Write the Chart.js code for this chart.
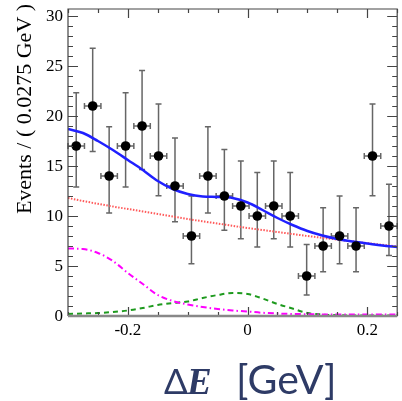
<!DOCTYPE html>
<html>
<head>
<meta charset="utf-8">
<script src="https://cdn.jsdelivr.net/npm/chart.js@4.4.1/dist/chart.umd.min.js"></script>
<style>
  html, body { margin: 0; padding: 0; background: #fff; }
  #wrap { width: 402px; height: 401px; position: relative; }
</style>
</head>
<body>
<div id="wrap"><canvas id="fitChart" width="402" height="401"></canvas></div>
<script>
// data: 20 bins of 0.0275 GeV between -0.3 and 0.25
const binWidth = 0.0275;
const binCenters = [-0.28625, -0.25875, -0.23125, -0.20375, -0.17625, -0.14875, -0.12125, -0.09375, -0.06625, -0.03875,
                    -0.01125, 0.01625, 0.04375, 0.07125, 0.09875, 0.12625, 0.15375, 0.18125, 0.20875, 0.23625];
const events = [17, 21, 14, 17, 19, 16, 13, 8, 14, 12, 11, 10, 11, 10, 4, 7, 8, 7, 16, 9];
const errMinus = [4.10, 4.56, 3.71, 4.10, 4.34, 3.97, 3.57, 2.77, 3.71, 3.42, 3.27, 3.11, 3.27, 3.11, 1.91, 2.58, 2.77, 2.58, 3.97, 2.94];
const errPlus = [5.32, 5.78, 4.93, 5.32, 5.56, 5.19, 4.79, 4.01, 4.93, 4.65, 4.50, 4.35, 4.50, 4.35, 3.16, 3.83, 4.01, 3.83, 5.19, 4.18];

// fit curves sampled every 0.025
const curveX = [-0.3, -0.275, -0.25, -0.225, -0.2, -0.175, -0.15, -0.125, -0.1, -0.075, -0.05, -0.025,
                0, 0.025, 0.05, 0.075, 0.1, 0.125, 0.15, 0.175, 0.2, 0.225, 0.25];
const totalFit = [18.7, 18.3, 17.5, 16.6, 15.6, 14.6, 13.5, 12.7, 12.2, 11.95, 11.9, 11.8,
                  11.35, 10.6, 9.8, 9.1, 8.5, 8.05, 7.7, 7.45, 7.25, 7.05, 6.9];
const bkgFit = [11.8, 11.5, 11.22, 10.95, 10.7, 10.45, 10.2, 9.95, 9.7, 9.47, 9.25, 9.02,
                8.8, 8.6, 8.4, 8.2, 8.0, 7.82, 7.64, 7.46, 7.29, 7.12, 6.95];
const peakingFit = [6.75, 6.7, 6.3, 5.5, 4.3, 3.2, 2.1, 1.5, 1.15, 0.9, 0.7, 0.55,
                    0.45, 0.32, 0.25, 0.2, 0.18, 0.15, 0.15, 0.15, 0.15, 0.15, 0.15];
const signalFit = [0.2, 0.25, 0.3, 0.4, 0.55, 0.8, 1.1, 1.3, 1.45, 1.8, 2.1, 2.3,
                   2.2, 1.75, 1.2, 0.75, 0.3, 0.15, 0.08, 0.05, 0.05, 0.05, 0.05];

const xTickValues = [-0.2, 0, 0.2];
const xTickLabels = ['-0.2', '0', '0.2'];
const yTickValues = [0, 5, 10, 15, 20, 25, 30];

const serif = '"Liberation Serif", "Times New Roman", serif';
const pts = arr => curveX.map((x, i) => ({ x: x, y: arr[i] }));

const rootStyle = {
    id: 'rootStyle',
    beforeDatasetsDraw(chart) {
        const ctx = chart.ctx, xs = chart.scales.x, ys = chart.scales.y;
        ctx.save();
        ctx.strokeStyle = '#666';
        ctx.lineWidth = 1.5;
        binCenters.forEach((c, i) => {
            const px = xs.getPixelForValue(c);
            const py = ys.getPixelForValue(events[i]);
            const top = ys.getPixelForValue(events[i] + errPlus[i]);
            const bot = ys.getPixelForValue(events[i] - errMinus[i]);
            const l = xs.getPixelForValue(c - binWidth / 2);
            const r = xs.getPixelForValue(c + binWidth / 2);
            ctx.beginPath();
            ctx.moveTo(px, top); ctx.lineTo(px, bot);
            ctx.moveTo(px - 3, top); ctx.lineTo(px + 3, top);
            ctx.moveTo(px - 3, bot); ctx.lineTo(px + 3, bot);
            ctx.moveTo(l, py); ctx.lineTo(r, py);
            ctx.moveTo(l, py - 3); ctx.lineTo(l, py + 3);
            ctx.moveTo(r, py - 3); ctx.lineTo(r, py + 3);
            ctx.stroke();
        });
        ctx.restore();
    },
    afterDatasetsDraw(chart) {
        const ctx = chart.ctx, xs = chart.scales.x, ys = chart.scales.y;
        const a = chart.chartArea;
        ctx.save();
        ctx.strokeStyle = '#444';
        ctx.lineWidth = 1.2;
        ctx.beginPath();
        ctx.moveTo(a.left, a.bottom); ctx.lineTo(a.left, a.top);
        ctx.lineTo(a.right, a.top); ctx.lineTo(a.right, a.bottom);
        // y ticks, inward on both sides
        for (let v = 0; v <= 30; v++) {
            const py = Math.round(ys.getPixelForValue(v)) + 0.5;
            const len = v % 5 === 0 ? 10 : 5;
            ctx.moveTo(a.left, py); ctx.lineTo(a.left + len, py);
            ctx.moveTo(a.right, py); ctx.lineTo(a.right - len, py);
        }
        // x ticks, inward on top and bottom
        for (let k = -6; k <= 5; k++) {
            const v = k * 0.05;
            const px = Math.round(xs.getPixelForValue(v)) + 0.5;
            const len = k % 4 === 0 ? 9 : 4;
            ctx.moveTo(px, a.top); ctx.lineTo(px, a.top + len);
            ctx.moveTo(px, a.bottom); ctx.lineTo(px, a.bottom - len);
        }
        ctx.stroke();
        ctx.strokeStyle = '#888';
        ctx.lineWidth = 2.5;
        ctx.beginPath();
        ctx.moveTo(a.left, a.bottom); ctx.lineTo(a.right, a.bottom);
        ctx.stroke();

        // tick labels in Times-like serif, placed by the scales
        ctx.fillStyle = '#000';
        ctx.font = '17px ' + serif;
        ctx.textAlign = 'right';
        ctx.textBaseline = 'middle';
        yTickValues.forEach(v => ctx.fillText(String(v), a.left - 5, ys.getPixelForValue(v) + 1));
        ctx.textAlign = 'center';
        ctx.textBaseline = 'alphabetic';
        xTickValues.forEach((v, i) => ctx.fillText(xTickLabels[i], xs.getPixelForValue(v), a.bottom + 19));
        ctx.restore();
    },
    afterDraw(chart) {
        const ctx = chart.ctx;
        ctx.save();
        // y title
        ctx.translate(31, 109);
        ctx.rotate(-Math.PI / 2);
        ctx.font = '22px ' + serif;
        ctx.fillStyle = '#000';
        ctx.textAlign = 'center';
        ctx.textBaseline = 'alphabetic';
        ctx.fillText('Events / ( 0.0275 GeV )', 0, 0);
        ctx.restore();

        // x title
        ctx.save();
        ctx.fillStyle = '#2e3b66';
        ctx.textBaseline = 'alphabetic';
        ctx.textAlign = 'left';
        const base = 394;
        ctx.font = '35px Lato, "Open Sans", sans-serif';
        ctx.fillText('Δ', 164, base);
        ctx.font = 'italic bold 37px ' + serif;
        ctx.fillText('E', 187, base);
        ctx.font = '41px Lato, "Open Sans", sans-serif';
        ctx.fillText('[GeV]', 236, base);
        ctx.restore();
    }
};

new Chart(document.getElementById('fitChart'), {
    type: 'scatter',
    data: {
        datasets: [
            {
                label: 'data',
                data: binCenters.map((c, i) => ({ x: c, y: events[i] })),
                pointRadius: 4.8,
                pointBackgroundColor: '#000',
                pointBorderWidth: 0,
                order: 0
            },
            {
                label: 'total',
                data: pts(totalFit),
                showLine: true,
                pointRadius: 0,
                borderColor: '#2020ff',
                borderWidth: 2.5,
                cubicInterpolationMode: 'monotone',
                order: 1
            },
            {
                label: 'background',
                data: pts(bkgFit),
                showLine: true,
                pointRadius: 0,
                borderColor: '#ff5a5a',
                borderWidth: 2,
                borderDash: [1.5, 1.5],
                cubicInterpolationMode: 'monotone',
                order: 2
            },
            {
                label: 'peaking',
                data: pts(peakingFit),
                showLine: true,
                pointRadius: 0,
                borderColor: '#ff00ff',
                borderWidth: 2,
                borderDash: [6, 3, 1.5, 3],
                cubicInterpolationMode: 'monotone',
                order: 3
            },
            {
                label: 'signal',
                data: pts(signalFit),
                showLine: true,
                pointRadius: 0,
                borderColor: '#1e9a1e',
                borderWidth: 2,
                borderDash: [5, 4],
                cubicInterpolationMode: 'monotone',
                order: 4
            }
        ]
    },
    options: {
        responsive: false,
        animation: false,
        devicePixelRatio: 1,
        layout: { padding: { top: 9, right: 1, left: 0, bottom: 0 } },
        plugins: { legend: { display: false }, tooltip: { enabled: false } },
        scales: {
            x: {
                type: 'linear',
                min: -0.3,
                max: 0.25,
                grid: { display: false, drawTicks: false },
                border: { display: false },
                afterBuildTicks: s => { s.ticks = xTickValues.map(v => ({ value: v })); },
                afterFit: s => { s.height = 85; },
                ticks: { display: false }
            },
            y: {
                min: 0,
                max: 30.7,
                grid: { display: false, drawTicks: false },
                border: { display: false },
                afterBuildTicks: s => { s.ticks = yTickValues.map(v => ({ value: v })); },
                afterFit: s => { s.width = 68; },
                ticks: { display: false }
            }
        }
    },
    plugins: [rootStyle]
});
</script>
</body>
</html>
